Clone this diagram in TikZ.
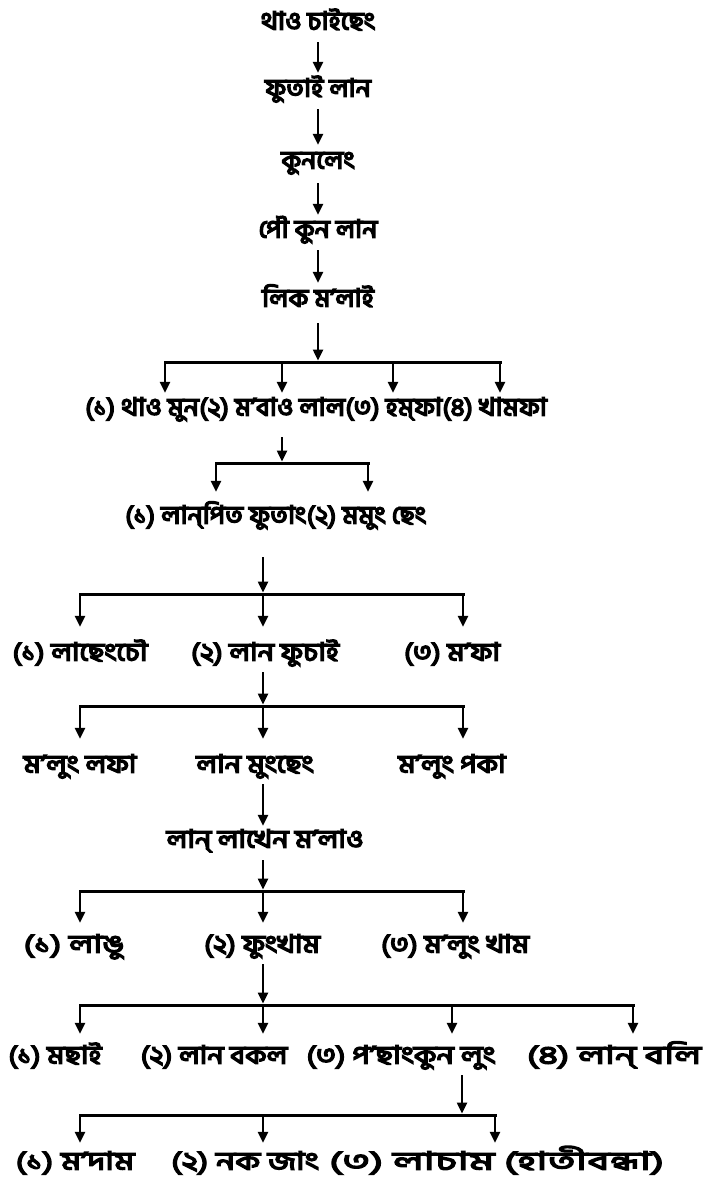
\documentclass[tikz,border=0pt]{standalone}
\usepackage{fontspec}
\usetikzlibrary{arrows.meta}
\newfontfamily\bnA[Script=Bengali, FakeBold=6, FakeStretch=1.07]{Hind Siliguri}
\newfontfamily\bnB[Script=Bengali, FakeBold=6, FakeStretch=1.15]{Hind Siliguri}
\newfontfamily\bnC[Script=Bengali, FakeBold=6, FakeStretch=1.22]{Hind Siliguri}
\newfontfamily\bnD[Script=Bengali, FakeBold=6, FakeStretch=1.35]{Hind Siliguri}
\newfontfamily\bnE[Script=Bengali, FakeBold=6, FakeStretch=1.5]{Hind Siliguri}
\newfontfamily\bnF[Script=Bengali, FakeBold=6, FakeStretch=1.7]{Hind Siliguri}
\tikzset{
  lbl/.style={font=\bnA\fontsize{25pt}{28pt}\selectfont, inner sep=0pt, minimum height=30pt, text height=15pt, text depth=6pt},
  wB/.style={font=\bnB\fontsize{25pt}{28pt}\selectfont},
  wC/.style={font=\bnC\fontsize{25pt}{28pt}\selectfont},
  wD/.style={font=\bnD\fontsize{25pt}{28pt}\selectfont},
  wE/.style={font=\bnE\fontsize{25pt}{28pt}\selectfont},
  wF/.style={font=\bnF\fontsize{25pt}{28pt}\selectfont},
  arr/.style={line width=2.4pt, -{Triangle[length=11pt,width=10pt]}},
  hbar/.style={line width=3pt, line cap=rect},
}
\begin{document}
\begin{tikzpicture}[x=1pt,y=-1pt]
\fill[white] (0,0) rectangle (708,1191);
\useasboundingbox (0,0) rectangle (708,1191);

% vertical chain
\node[lbl] (n1) at (318,25) {থাও চাইছেং};
\node[lbl] (n2) at (318,92) {ফুতাই লান};
\node[lbl] (n3) at (318,164) {কুনলেং};
\node[lbl] (n4) at (318,233) {পৌ কুন লান};
\node[lbl] (n5) at (318,302) {লিক ম’লাই};
\draw[arr, shorten <=2pt, shorten >=4pt] (n1) -- (n2);
\draw[arr, shorten <=2pt, shorten >=4pt] (n2) -- (n3);
\draw[arr, shorten <=4pt, shorten >=3pt] (n3) -- (n4);
\draw[arr, shorten <=2pt, shorten >=4pt] (n4) -- (n5);

% row 6
\coordinate (b6) at (318,362);
\coordinate (b6a) at (165,362);
\coordinate (b6b) at (282,362);
\coordinate (b6c) at (393,362);
\coordinate (b6d) at (500,362);
\node[lbl, anchor=west] (n6a) at (85,411) {(১) থাও মুন};
\node[lbl, anchor=west] (n6b) at (n6a.east) {(২) ম’বাও লাল};
\node[lbl, anchor=west] (n6c) at (n6b.east) {(৩) হম্‌ফা};
\node[lbl, anchor=west] (n6d) at (n6c.east) {(৪) খামফা};
\draw[arr, shorten <=6pt, shorten >=1.5pt] (n5.south -| b6) -- (b6);
\draw[hbar] (b6a) -- (b6d);
\foreach \p/\q in {b6a/n6a, b6b/n6b, b6c/n6c, b6d/n6d}
  \draw[arr, shorten >=3pt] (\p) -- (\p |- \q.north);

% row 7
\coordinate (b7) at (282,463);
\coordinate (b7a) at (216,463);
\coordinate (b7b) at (368,463);
\node[lbl, anchor=west] (n7a) at (125,519) {(১) লান্‌পিত ফুতাং};
\node[lbl, anchor=west] (n7b) at (n7a.east) {(২) মমুং ছেং};
\draw[arr, shorten <=11pt, shorten >=1.5pt] (n6b.south -| b7) -- (b7);
\draw[hbar] (b7a) -- (b7b);
\draw[arr, shorten >=12pt] (b7a) -- (b7a |- n7a.north);
\draw[arr, shorten >=12pt] (b7b) -- (b7b |- n7b.north);

% row 8
\coordinate (b8) at (263,594);
\coordinate (b8a) at (80,594);
\coordinate (b8b) at (263,594);
\coordinate (b8c) at (463,594);
\node[lbl, wB] (n8a) at (80,656) {(১) লাছেংচৌ};
\node[lbl, wB] (n8b) at (265,656) {(২) লান ফুচাই};
\node[lbl, wB] (n8c) at (452,656) {(৩) ম’ফা};
\draw[arr, shorten <=23pt, shorten >=1.5pt] (n7a.south -| b8) -- (b8);
\draw[hbar] (b8a) -- (b8c);
\foreach \p/\q in {b8a/n8a, b8b/n8b, b8c/n8c}
  \draw[arr, shorten >=14pt] (\p) -- (\p |- \q.north);

% row 9
\coordinate (b9) at (263,706);
\coordinate (b9a) at (80,706);
\coordinate (b9b) at (263,706);
\coordinate (b9c) at (463,706);
\node[lbl, wB] (n9a) at (80,768) {ম’লুং লফা};
\node[lbl, wB] (n9b) at (255,768) {লান মুংছেং};
\node[lbl, wB] (n9c) at (452,768) {ম’লুং পকা};
\draw[arr, shorten <=1pt, shorten >=1.5pt] (n8b.south -| b9) -- (b9);
\draw[hbar] (b9a) -- (b9c);
\foreach \p/\q in {b9a/n9a, b9b/n9b, b9c/n9c}
  \draw[arr, shorten >=14pt] (\p) -- (\p |- \q.north);

% row 10
\node[lbl, wB] (n10) at (265,843) {লান্‌ লাখেন ম’লাও};
\draw[arr, shorten <=1pt, shorten >=2pt] (n9b.south -| b9) -- (n10.north -| b9);

% row 11
\coordinate (b11) at (263,891);
\coordinate (b11a) at (80,891);
\coordinate (b11b) at (263,891);
\coordinate (b11c) at (463,891);
\node[lbl, wD] (n11a) at (74,948) {(১) লাঙু};
\node[lbl, wB] (n11b) at (262,948) {(২) ফুংখাম};
\node[lbl, wB] (n11c) at (455,948) {(৩) ম’লুং খাম};
\draw[arr, shorten <=2pt, shorten >=1.5pt] (n10.south -| b11) -- (b11);
\draw[hbar] (b11a) -- (b11c);
\foreach \p/\q in {b11a/n11a, b11b/n11b, b11c/n11c}
  \draw[arr, shorten >=10pt] (\p) -- (\p |- \q.north);

% row 12
\coordinate (b12) at (263,1005);
\coordinate (b12a) at (80,1005);
\coordinate (b12b) at (263,1005);
\coordinate (b12c) at (452,1005);
\coordinate (b12d) at (633,1005);
\node[lbl, wB] (n12a) at (55,1059) {(১) মছাই};
\node[lbl, wB] (n12b) at (214,1059) {(২) লান বকল};
\node[lbl, wC] (n12c) at (401,1059) {(৩) প’ছাংকুন লুং};
\node[lbl, wE] (n12d) at (614,1059) {(৪) লান্‌ বলি};
\draw[arr, shorten <=1pt, shorten >=1.5pt] (n11b.south -| b12) -- (b12);
\draw[hbar] (b12a) -- (b12d);
\foreach \p/\q in {b12a/n12a, b12b/n12b, b12c/n12c, b12d/n12d}
  \draw[arr, shorten >=10pt] (\p) -- (\p |- \q.north);

% row 13
\coordinate (b13) at (462,1115);
\coordinate (b13a) at (80,1115);
\coordinate (b13b) at (263,1115);
\coordinate (b13c) at (495,1115);
\node[lbl, wD] (n13a) at (75,1165) {(১) ম’দাম};
\node[lbl, wD] (n13b) at (245,1165) {(২) নক জাং};
\node[lbl, wF, anchor=west] (n13c) at (n13b.east) {\ (৩) লাচাম (হাতীবন্ধা)};
\draw[arr, shorten <=1pt, shorten >=1.5pt] (n12c.south -| b13) -- (b13);
\draw[hbar] (b13a) -- (b13c);
\foreach \p/\q in {b13a/n13a, b13b/n13b, b13c/n13c}
  \draw[arr, shorten >=7pt] (\p) -- (\p |- \q.north);
\end{tikzpicture}
\end{document}
